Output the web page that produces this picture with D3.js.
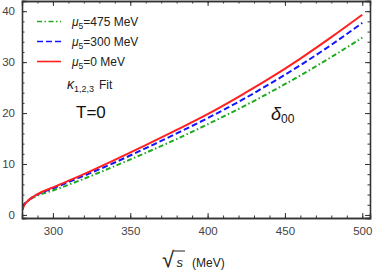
<!DOCTYPE html>
<html>
<head>
<meta charset="utf-8">
<script src="https://cdn.jsdelivr.net/npm/d3@7/dist/d3.min.js"></script>
<style>
  html, body { margin: 0; padding: 0; background: #fff; }
  svg { display: block; font-family: "Liberation Sans", Arial, sans-serif; }
</style>
</head>
<body>
<svg id="chart" width="374" height="276"></svg>
<script>
"use strict";

// sqrt(s) in MeV
const sqrtS = [280.5, 281, 283, 286, 290, 300, 320, 340, 360, 380, 400, 420, 440, 460, 480, 500];

// delta_00 phase shift (degrees) for each mu5
const delta0   = [1.0, 1.6, 2.5, 3.3, 4.1, 5.4, 8.0, 10.8, 13.7, 16.7, 19.8, 23.2, 26.8, 30.7, 34.9, 39.3];
const delta300 = [1.5, 1.9, 2.6, 3.3, 4.0, 5.2, 7.7, 10.3, 13.1, 16.0, 19.0, 22.2, 25.7, 29.4, 33.4, 37.7];
const delta475 = [1.6, 1.9, 2.5, 3.2, 3.8, 4.8, 7.1, 9.6, 12.2, 14.9, 17.8, 20.8, 24.0, 27.4, 31.0, 34.8];

const xTicks = [300, 350, 400, 450, 500];
const yTicks = [0, 10, 20, 30, 40];

const series = [
  { mu: "475", values: delta475, color: "#1faa1f", dash: "5,2.5,1.5,2.5" },
  { mu: "300", values: delta300, color: "#1414ff", dash: "6,3" },
  { mu: "0",   values: delta0,   color: "#ff2020", dash: null },
];

const svg = d3.select("#chart");
const frame = { left: 22, right: 370, top: 1, bottom: 218 };

const x = d3.scaleLinear().domain([280, 505]).range([frame.left, frame.right]);
const y = d3.scaleLinear().domain([-0.6, 42]).range([frame.bottom, frame.top]);

// ── curves ───────────────────────────────────────────────────────────────
const line = d3.line()
  .x((d) => x(d[0]))
  .y((d) => y(d[1]))
  .curve(d3.curveMonotoneX);

series.forEach((s) => {
  svg.append("path")
    .datum(sqrtS.map((v, i) => [v, s.values[i]]))
    .attr("d", line)
    .attr("fill", "none")
    .attr("stroke", s.color)
    .attr("stroke-width", 2)
    .attr("stroke-dasharray", s.dash);
});

// ── frame with inward ticks ──────────────────────────────────────────────
const axisColor = "#333";
const minorX = d3.range(280, 501, 10);
const minorY = d3.range(0, 41, 2);

const gx = svg.append("g").attr("transform", `translate(0,${frame.bottom})`);
gx.call(d3.axisBottom(x).tickValues(minorX).tickSize(-2.5).tickFormat(""));
gx.append("g").call(d3.axisBottom(x).tickValues(xTicks).tickSize(-5).tickPadding(9));

const gxTop = svg.append("g").attr("transform", `translate(0,${frame.top})`);
gxTop.call(d3.axisTop(x).tickValues(minorX).tickSize(-2.5).tickFormat(""));
gxTop.append("g").call(d3.axisTop(x).tickValues(xTicks).tickSize(-5).tickFormat(""));

const gy = svg.append("g").attr("transform", `translate(${frame.left},0)`);
gy.call(d3.axisLeft(y).tickValues(minorY).tickSize(-2.5).tickFormat(""));
gy.append("g").call(d3.axisLeft(y).tickValues(yTicks).tickSize(-5).tickPadding(7));

const gyRight = svg.append("g").attr("transform", `translate(${frame.right},0)`);
gyRight.call(d3.axisRight(y).tickValues(minorY).tickSize(-2.5).tickFormat(""));
gyRight.append("g").call(d3.axisRight(y).tickValues(yTicks).tickSize(-5).tickFormat(""));

svg.selectAll(".domain").attr("stroke", axisColor).attr("stroke-width", 1.3);
svg.selectAll(".tick line").attr("stroke", axisColor);
svg.selectAll(".tick text")
  .attr("fill", "#444")
  .style("font-size", "11.5px")
  .style("font-family", "Liberation Sans, Arial, sans-serif");

// ── axis title: √s (MeV) ─────────────────────────────────────────────────
const xt = svg.append("g").attr("transform", "translate(162,267)");
xt.append("text").attr("x", 0).attr("y", 0)
  .style("font-size", "22px").attr("fill", "#222").text("√");
xt.append("line").attr("x1", 12).attr("x2", 23).attr("y1", -16).attr("y2", -16)
  .attr("stroke", "#222").attr("stroke-width", 1);
xt.append("text").attr("x", 14.5).attr("y", 0)
  .style("font-size", "13px").style("font-style", "italic").attr("fill", "#222").text("s");
xt.append("text").attr("x", 30).attr("y", 0)
  .style("font-size", "12px").attr("fill", "#222").text("(MeV)");

// ── legend ───────────────────────────────────────────────────────────────
const legend = svg.append("g").attr("transform", "translate(37,21.5)");
series.forEach((s, i) => {
  const row = legend.append("g").attr("transform", `translate(0,${i * 20})`);
  row.append("line").attr("x1", 0).attr("x2", 24).attr("y1", 0).attr("y2", 0)
    .attr("stroke", s.color)
    .attr("stroke-width", s.dash ? 1.4 : 1.6)
    .attr("stroke-dasharray", s.dash);
  const t = row.append("text").attr("x", 35).attr("y", 4.5)
    .style("font-size", "12px").attr("fill", "#222");
  t.append("tspan").style("font-style", "italic").text("μ");
  t.append("tspan").attr("dy", 3).style("font-size", "8.5px").text("5");
  t.append("tspan").attr("dy", -3).text(`=${s.mu} MeV`);
});

// ── annotations ──────────────────────────────────────────────────────────
const kappa = svg.append("text").attr("x", 67).attr("y", 89).attr("fill", "#222");
kappa.append("tspan").style("font-size", "14px").style("font-style", "italic").text("κ");
kappa.append("tspan").attr("dy", 3).style("font-size", "9px").text("1,2,3");
kappa.append("tspan").attr("dy", -3).attr("dx", 5).style("font-size", "12px").text("Fit");

svg.append("text").attr("x", 76).attr("y", 118)
  .style("font-size", "17px").attr("fill", "#111").text("T=0");

const delta = svg.append("text").attr("x", 271).attr("y", 120).attr("fill", "#111");
delta.append("tspan").style("font-size", "18px").style("font-style", "italic").text("δ");
delta.append("tspan").attr("dy", 3).style("font-size", "12px").text("00");
</script>
</body>
</html>
